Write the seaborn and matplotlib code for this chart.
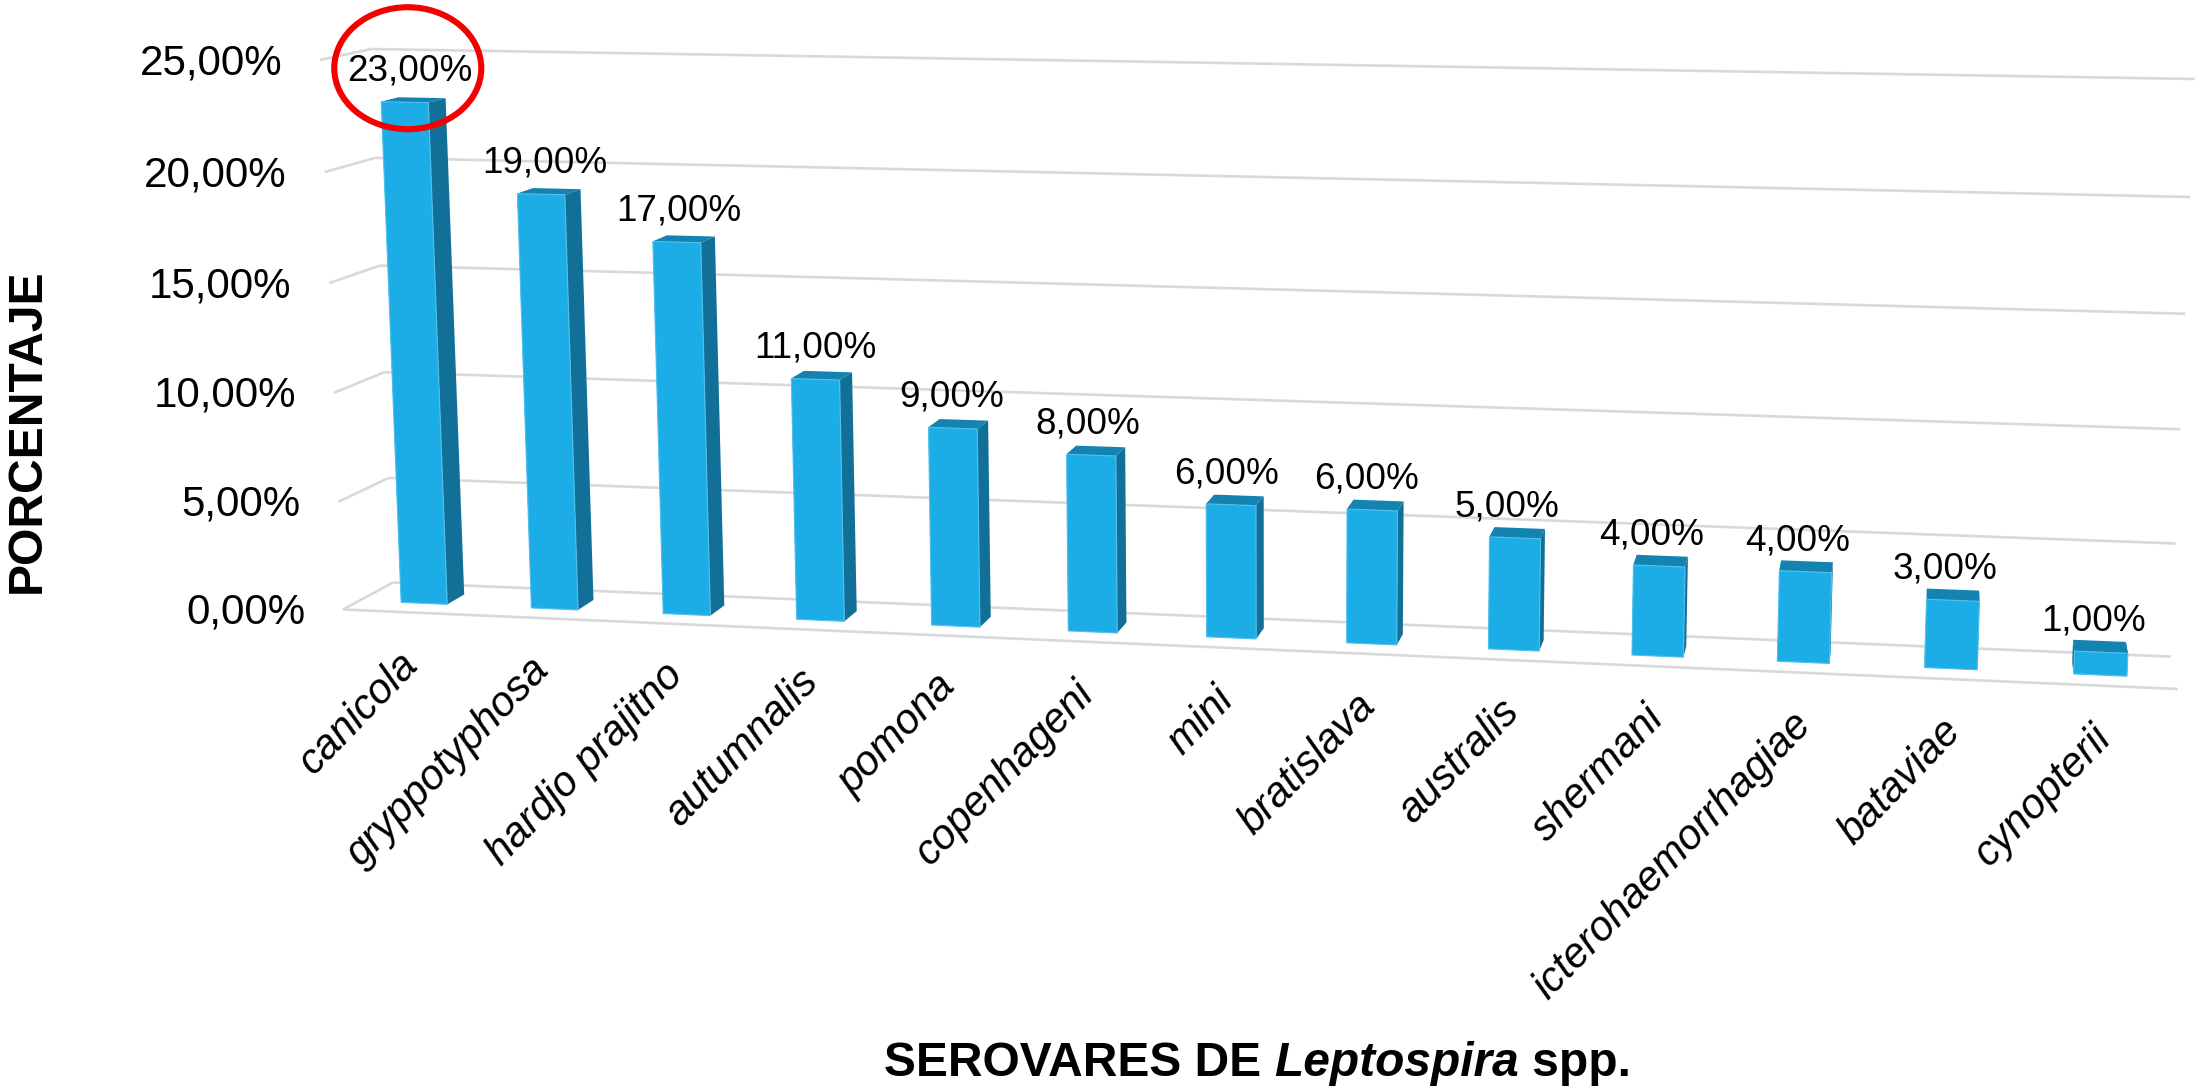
import numpy as np
import pandas as pd
import matplotlib
matplotlib.use("Agg")
import matplotlib.pyplot as plt
import matplotlib.transforms as mtransforms
from matplotlib.patches import Ellipse, Polygon
import seaborn as sns

serovares = ["canicola", "gryppotyphosa", "hardjo prajitno", "autumnalis", "pomona",
             "copenhageni", "mini", "bratislava", "australis", "shermani",
             "icterohaemorrhagiae", "bataviae", "cynopterii"]
porcentaje = [23, 19, 17, 11, 9, 8, 6, 6, 5, 4, 4, 3, 1]
y_ticks = [0, 5, 10, 15, 20, 25]

W, H = 2195, 1088
FRONT_COLOR = "#1DADE6"
SIDE_COLOR = "#127098"
TOP_COLOR = "#1483B2"
GRID_COLOR = "#D9D9D9"
BAR_FRONT, BAR_BACK = 0.33, 0.69


def homography(corners):
    # corners: (u0,v0), (u0,v1), (u1,v0), (u1,v1) of the wall, in image pixels
    src = [(0, 0), (0, 25), (13, 0), (13, 25)]
    A, b = [], []
    for (u, v), (x, y) in zip(src, corners):
        A.append([u, v, 1, 0, 0, 0, -u * x, -v * x])
        A.append([0, 0, 0, u, v, 1, -u * y, -v * y])
        b += [x, y]
    return np.append(np.linalg.solve(np.array(A, float), np.array(b, float)), 1).reshape(3, 3)


# the "3D" box of the chart
H_FRONT = homography([(343, 609.5), (320, 60), (2178, 689), (2202, 95)])
H_BACK = homography([(393, 582.5), (371, 49), (2171, 656.6), (2195, 79)])


def project(u, v, d):
    u, v = np.asarray(u, float), np.asarray(v, float)
    pts = np.stack([u, v, np.ones_like(u)], axis=-1)
    p0 = pts @ H_FRONT.T
    p1 = pts @ H_BACK.T
    p0 = p0[..., :2] / p0[..., 2:]
    p1 = p1[..., :2] / p1[..., 2:]
    return p0 * (1 - d) + p1 * d


class WallTransform(mtransforms.Transform):
    # category / value coordinates of the barplot -> image pixels
    input_dims = 2
    output_dims = 2
    is_separable = False

    def __init__(self, d):
        super().__init__()
        self.d = d

    def transform_non_affine(self, values):
        values = np.asarray(values, float)
        return project(values[:, 0] + 0.5, values[:, 1], self.d)


sns.set_theme(style="white")
plt.rcParams["font.family"] = ["Liberation Sans", "DejaVu Sans"]
plt.rcParams["text.color"] = "black"

fig, ax = plt.subplots(figsize=(W / 100, H / 100), dpi=100)
df = pd.DataFrame({"serovar": serovares, "pct": porcentaje})
sns.barplot(data=df, x="serovar", y="pct", color=FRONT_COLOR, saturation=1, width=0.355,
            linewidth=0.8, edgecolor="#4FC0EC", ax=ax, zorder=3)
ax.set_position([0, 0, 1, 1])
ax.set_axis_off()

# image pixels (y down) -> display
px = mtransforms.Affine2D().scale(1, -1).translate(0, H)


def line(p, q):
    ax.plot([p[0], q[0]], [p[1], q[1]], color=GRID_COLOR, lw=1.9, transform=px,
            zorder=0.5, clip_on=False, solid_capstyle="butt")


for t in y_ticks:
    line(project(0, t, 1), project(13, t, 1))
    line(project(0, t, 0), project(0, t, 1))
    tx, ty = project(0, t, 0)
    ax.text(tx - 38, ty + 3, f"{t:.2f}".replace(".", ",") + "%", fontsize=30.3, ha="right",
            va="center", transform=px)
line(project(0, 0, 0), project(13, 0, 0))

for i, patch in enumerate(ax.patches):
    x0, x1 = patch.get_x() + 0.5, patch.get_x() + patch.get_width() + 0.5
    v = patch.get_height()
    patch.set_transform(WallTransform(BAR_FRONT) + px)
    patch.set_clip_on(False)
    a, b = BAR_FRONT, BAR_BACK
    for ux in (x0, x1):
        ax.add_patch(Polygon([project(ux, 0, a), project(ux, v, a), project(ux, v, b), project(ux, 0, b)],
                             closed=True, fc=SIDE_COLOR, ec="none", transform=px, zorder=2))
    ax.add_patch(Polygon([project(x0, v, a), project(x1, v, a), project(x1, v, b), project(x0, v, b)],
                         closed=True, fc=TOP_COLOR, ec="none", transform=px, zorder=2.5))
    cx, cy = project((x0 + x1) / 2, v, a)
    ax.text(cx + max(5 - 1.6 * i, -8), cy - 31, f"{porcentaje[i]:.2f}".replace(".", ",") + "%",
            fontsize=26.6, ha="center", va="center", transform=px, zorder=5)
    bx, by = project((x0 + x1) / 2, 0, 0)
    ax.text(bx - 11, by + 32, serovares[i], fontsize=30, style="italic", rotation=46,
            rotation_mode="anchor", ha="right", va="top", transform=px, zorder=5)

    if i == 0:
        ax.add_patch(Ellipse((cx + 3, cy - 34), 147, 122, fc="none", ec="#F40000", lw=4.4,
                             transform=px, zorder=6))

ax.text(27, 431, "PORCENTAJE", fontsize=34.6, fontweight="bold", rotation=90, ha="center",
        va="center", transform=px)

# x title has an italic word in the middle
renderer = fig.canvas.get_renderer()
xpos = 884
for piece, st in [("SEROVARES DE ", "normal"), ("Leptospira", "italic"), (" spp.", "normal")]:
    txt = ax.text(xpos, 1076, piece.replace(" ", "\u00a0"), fontsize=34.5, fontweight="bold", style=st,
                  ha="left", va="baseline", transform=px)
    xpos = txt.get_window_extent(renderer).x1

fig.savefig("out.png", dpi=100, facecolor="white")
